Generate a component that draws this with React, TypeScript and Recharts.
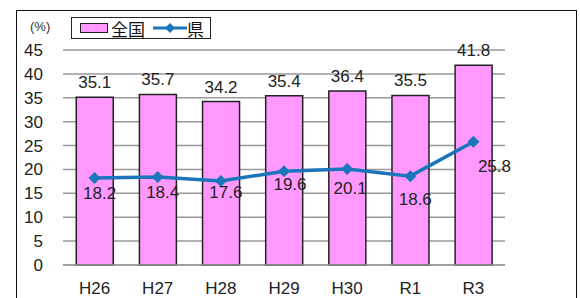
import React from 'react';
import { ComposedChart, Bar, Line, XAxis, YAxis, CartesianGrid, LabelList } from 'recharts';

const years = ['H26', 'H27', 'H28', 'H29', 'H30', 'R1', 'R3'];
const national = [35.1, 35.7, 34.2, 35.4, 36.4, 35.5, 41.8];
const prefecture = [18.2, 18.4, 17.6, 19.6, 20.1, 18.6, 25.8];
const yTicks = [0, 5, 10, 15, 20, 25, 30, 35, 40, 45];

// label nudges for the line values (px), as placed in the original
const lineLabelDx = [5, 5, 5, 6, 3, 5, 21];
const lineLabelDy = [16, 16, 13, 14, 21, 24, 26];

const FONT = '"Liberation Sans", Arial, sans-serif';
const BLUE = '#1B75BC';
const PINK = '#FF99FF';

const data = years.map((year, i) => ({ year, national: national[i], prefecture: prefecture[i] }));

const Diamond = (props: any) => {
  const { cx, cy } = props;
  if (cx == null || cy == null) return null;
  const r = 6;
  return <polygon points={`${cx},${cy - r} ${cx + r},${cy} ${cx},${cy + r} ${cx - r},${cy}`} fill={BLUE} />;
};

const LineLabel = (props: any) => {
  const { x, y, value, index } = props;
  return (
    <text x={x + lineLabelDx[index]} y={y + lineLabelDy[index]} textAnchor="middle" dominantBaseline="middle"
      fontSize={17} fill="#222" fontFamily={FONT}>
      {value}
    </text>
  );
};

const LegendBox = () => (
  <div style={{ position: 'absolute', left: 71, top: 17, display: 'flex', alignItems: 'center', border: '1.5px solid #222',
    background: '#fff', height: 20, padding: '0 6px 0 8px', fontFamily: '"Noto Sans CJK JP", sans-serif', fontSize: 17, color: '#111' }}>
    <span style={{ display: 'inline-block', width: 26, height: 8, background: PINK, border: '1.5px solid #222' }} />
    <span style={{ marginLeft: 3 }}>全国</span>
    <svg width={34} height={14} style={{ marginLeft: 8 }}>
      <line x1={0} y1={7} x2={34} y2={7} stroke={BLUE} strokeWidth={3} />
      <polygon points="17,2 22,7 17,12 12,7" fill={BLUE} />
    </svg>
    <span>県</span>
  </div>
);

const App = () => {
  return (
    <div style={{ position: 'absolute', left: 0, top: 0, width: 580, height: 298, background: '#fff', overflow: 'hidden' }}>
      <div style={{ position: 'absolute', left: 16, top: 10, width: 561, height: 300, border: '1.5px solid #111', boxSizing: 'border-box' }} />
      <div style={{ position: 'absolute', left: 30, top: 19, fontFamily: FONT, fontSize: 13, color: '#333' }}>(%)</div>
      <ComposedChart width={580} height={298} data={data} barCategoryGap="21%"
        margin={{ top: 50, right: 75, bottom: 0, left: 13 }} style={{ position: 'absolute', left: 0, top: 0 }}>
        <CartesianGrid vertical={false} stroke="#999" strokeWidth={1.5} />
        <XAxis dataKey="year" axisLine={{ stroke: '#999', strokeWidth: 1.5 }} tickLine={false} height={33} tickMargin={11}
          tick={{ fontSize: 17, fill: '#222', fontFamily: FONT }} interval={0} />
        <YAxis domain={[0, 45]} ticks={yTicks} width={50} axisLine={false} tickLine={false} tickMargin={14}
          tick={{ fontSize: 17, fill: '#222', fontFamily: FONT }} interval={0} />
        <Bar dataKey="national" name="全国" fill={PINK} stroke="#222" strokeWidth={1.5} isAnimationActive={false}>
          <LabelList dataKey="national" position="top" offset={9} fontSize={17} fill="#222" fontFamily={FONT} />
        </Bar>
        <Line dataKey="prefecture" name="県" stroke={BLUE} strokeWidth={3.5} dot={<Diamond />} activeDot={false}
          isAnimationActive={false}>
          <LabelList dataKey="prefecture" content={<LineLabel />} />
        </Line>
      </ComposedChart>
      <LegendBox />
    </div>
  );
};

export default App;
